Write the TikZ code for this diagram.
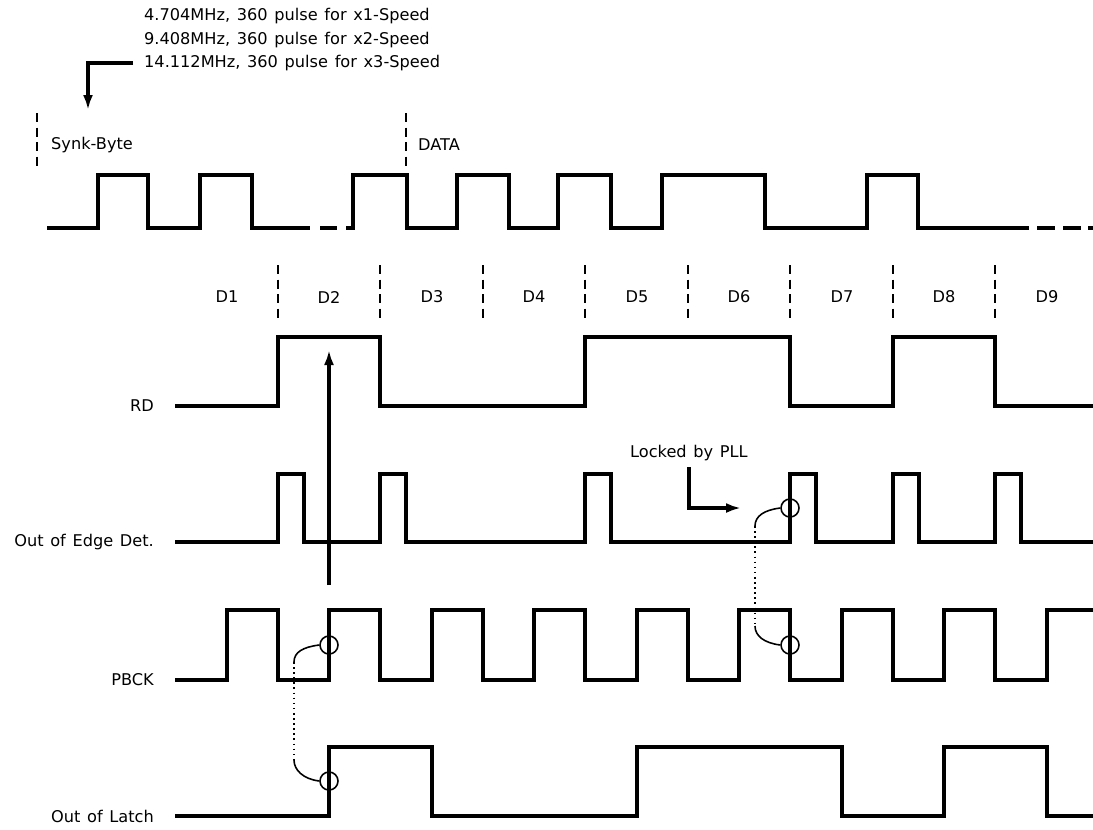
\documentclass[tikz,border=0pt]{standalone}
\usepackage{fontspec}
\setmainfont[WordSpace=1.3]{DejaVu Sans}
\usetikzlibrary{arrows.meta}

\tikzset{
  sigline/.style={line width=1.8pt},
  cellsep/.style={line width=0.9pt, dash pattern=on 1.8mm off 1.1mm},
  ptr/.style={line width=2pt, -{Latex[length=3mm,width=2mm]}},
  edgering/.style={draw, circle, line width=0.9pt, minimum size=3.6mm, inner sep=0pt},
  linkline/.style={line width=0.9pt},
  lbl/.style={font=\fontsize{9.2}{11}\selectfont},
}

\begin{document}
\begin{tikzpicture}[x=0.2mm, y=-0.2mm]
        \useasboundingbox (0,0) rectangle (1093,829);

        % Speed notes and pointer
        \node[lbl, right] (spd1) at (138,16) {4.704MHz, 360 pulse for x1-Speed};
        \node[lbl, right] (spd2) at (138,40) {9.408MHz, 360 pulse for x2-Speed};
        \node[lbl, right] (spd3) at (138,63) {14.112MHz, 360 pulse for x3-Speed};
        \coordinate (syncTip) at (88,110);
        \draw[ptr] ([xshift=-1mm]spd3.west) -| (syncTip);

        % Sync / data marks
        \draw[cellsep] (37,113) -- (37,168);
        \draw[cellsep] (406,113) -- (406,170);
        \node[lbl, right] (synk) at (45,145) {Synk-Byte};
        \node[lbl, right] (data) at (412,145) {DATA};

        % Input bit stream
        \draw[sigline] (47,228) -| (98,175) -| (148,228) -| (200,175) -| (252,228) -- (310,228);
        \draw[sigline] (320,228) -- (337,228);
        \draw[sigline] (346,228) -| (353,175) -| (407,228) -| (457,175) -| (509,228) -| (558,175)
                -| (611,228) -| (662,175) -| (765,228) -| (867,175) -| (918,228) -- (1029,228);
        \draw[sigline] (1037,228) -- (1055,228) (1063,228) -- (1081,228) (1088,228) -- (1093,228);

        % Bit cells
        \draw[cellsep] (278,265) -- (278,318) (380,265) -- (380,318) (483,265) -- (483,318)
                (585,265) -- (585,318) (688,265) -- (688,318) (790,265) -- (790,318)
                (893,265) -- (893,318) (995,265) -- (995,318);
        \node[lbl] (d1) at (227,297) {D1};
        \node[lbl] (d2) at (329,297) {D2};
        \node[lbl] (d3) at (432,297) {D3};
        \node[lbl] (d4) at (534,297) {D4};
        \node[lbl] (d5) at (637,297) {D5};
        \node[lbl] (d6) at (739,297) {D6};
        \node[lbl] (d7) at (842,297) {D7};
        \node[lbl] (d8) at (944,297) {D8};
        \node[lbl] (d9) at (1047,297) {D9};

        % RD
        \node[lbl, left] (rdlbl) at (160,406) {RD};
        \draw[sigline] (175,406) -| (278,337) -| (380,406) -| (585,337) -| (790,406)
                -| (893,337) -| (995,406) -- (1093,406);
        \coordinate (rdFoot) at (329,585);
        \coordinate (rdHead) at (329,350);
        \draw[ptr] (rdFoot) -- (rdHead);

        % Out of Edge Det.
        \node[lbl, left] (edgelbl) at (160,542) {Out of Edge Det.};
        \draw[sigline] (175,542) -| (278,474) -| (304,542) -| (380,474) -| (406,542)
                -| (585,474) -| (611,542) -| (790,474) -| (816,542) -| (893,474) -| (919,542)
                -| (995,474) -| (1021,542) -- (1093,542);

        % PBCK
        \node[lbl, left] (pbcklbl) at (160,680) {PBCK};
        \draw[sigline] (175,680) -| (227,610) -| (278,680) -| (329,610) -| (380,680) -| (432,610)
                -| (483,680) -| (534,610) -| (585,680) -| (637,610) -| (688,680) -| (739,610)
                -| (790,680) -| (842,610) -| (893,680) -| (944,610) -| (995,680) -| (1047,610)
                -- (1093,610);

        % Out of Latch
        \node[lbl, left] (latchlbl) at (160,816) {Out of Latch};
        \draw[sigline] (175,816) -| (329,747) -| (432,816) -| (637,747) -| (842,816)
                -| (944,747) -| (1047,816) -- (1093,816);

        % Latch timing
        \node[edgering] (latchP) at (329,645) {};
        \node[edgering] (latchQ) at (329,781) {};
        \coordinate (latchTop) at (294,662);
        \coordinate (latchBot) at (294,760);
        \draw[linkline] (latchP.west) .. controls +(-16,2) and +(0,-10) .. (latchTop);
        \draw[linkline, dotted] (latchTop) -- (latchBot);
        \draw[linkline] (latchBot) .. controls +(0,10) and +(-16,-2) .. (latchQ.west);

        % PLL lock
        \node[lbl, right] (pll) at (624,453) {Locked by PLL};
        \coordinate (pllTip) at (741,508);
        \draw[ptr] (pll.south) |- (pllTip);
        \node[edgering] (lockE) at (790,508) {};
        \node[edgering] (lockP) at (790,645) {};
        \coordinate (lockTop) at (755,526);
        \coordinate (lockBot) at (755,626);
        \draw[linkline] (lockE.west) .. controls +(-16,2) and +(0,-10) .. (lockTop);
        \draw[linkline, dotted] (lockTop) -- (lockBot);
        \draw[linkline] (lockBot) .. controls +(0,10) and +(-16,-2) .. (lockP.west);
\end{tikzpicture}
\end{document}
